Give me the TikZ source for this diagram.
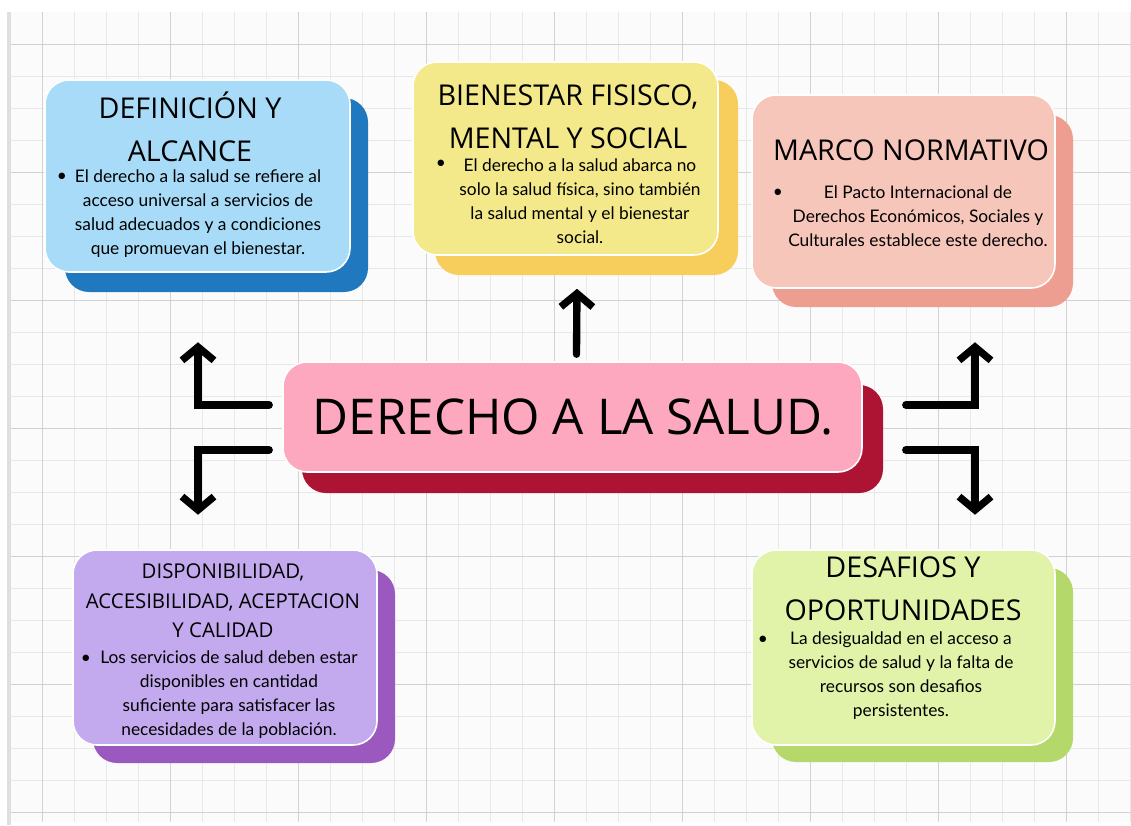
\documentclass[tikz,border=0pt]{standalone}
\usepackage{fontspec}
\setmainfont{Lato}
\newfontfamily\headfont{Open Sans}
\usetikzlibrary{arrows.meta,fit,positioning}

\begin{document}
\begin{tikzpicture}[x=0.75pt,y=-0.75pt,
  card/.style={rounded corners=18pt, inner sep=0pt, draw=white, line width=1.2pt},
  back/.style={rounded corners=18pt, inner sep=0pt},
  head/.style={font=\headfont\fontsize{21.5}{32}\selectfont, align=center, inner sep=0pt},
  body/.style={font=\fontsize{13}{18}\selectfont, align=center, inner sep=0pt},
  bul/.style={font=\fontsize{13}{18}\selectfont, inner sep=0pt},
  link/.style={line width=5.5pt, line cap=round, -{Straight Barb[length=10pt,width=24pt]}},
  gridline/.style={gray!18, line width=0.4pt},
  gridmajor/.style={gray!35, line width=0.5pt}
]
% paper with a grid
\useasboundingbox (0,0) rectangle (1131,825);
\fill[white] (0,0) rectangle (1131,825);
\fill[gray!3] (10,12) rectangle (1131,822);
\foreach \gx in {42,74,...,1131} \draw[gridline] (\gx,12) -- (\gx,822);
\foreach \gy in {44,76,...,822} \draw[gridline] (10,\gy) -- (1131,\gy);
\foreach \gx in {42,170,...,1131} \draw[gridmajor] (\gx,12) -- (\gx,822);
\foreach \gy in {44,172,...,822} \draw[gridmajor] (10,\gy) -- (1131,\gy);
\fill[gray!25] (7,12) rectangle (11,825);

% central topic
\node[back, fill={rgb,255:red,173;green,20;blue,51}, fit={(302,385) (883,493)}] (saludsh) {};
\node[card, fill={rgb,255:red,253;green,168;blue,190}, fit={(283,362) (862,472)}] (salud) {};
\node[font=\headfont\fontsize{37}{37}\selectfont] (saludtxt) at (573,417) {DERECHO A LA SALUD.};

% definicion y alcance
\node[back, fill={rgb,255:red,32;green,121;blue,190}, fit={(65,98) (368,292)}] (defsh) {};
\node[card, fill={rgb,255:red,167;green,219;blue,247}, fit={(45,80) (350,272)}] (def) {};
\node[head] (deftit) at (190,127) {DEFINICIÓN Y\\ALCANCE};
\node[bul] (defbul) at (62,177) {•};
\node[body] (deftxt) at (198,214) {El derecho a la salud se refiere al\\acceso universal a servicios de\\salud adecuados y a condiciones\\que promuevan el bienestar.};

% bienestar
\node[back, fill={rgb,255:red,247;green,206;blue,91}, fit={(435,80) (738,275)}] (biensh) {};
\node[card, fill={rgb,255:red,243;green,232;blue,138}, fit={(413,62) (718,255)}] (bien) {};
\node[head] (bientit) at (568,117) {BIENESTAR FISISCO,\\MENTAL Y SOCIAL};
\node[bul] (bienbul) at (441,164) {•};
\node[body] (bientxt) at (580,201) {El derecho a la salud abarca no\\solo la salud física, sino también\\la salud mental y el bienestar\\social.};

% marco normativo
\node[back, fill={rgb,255:red,238;green,158;blue,144}, fit={(772,115) (1073,307)}] (marcosh) {};
\node[card, fill={rgb,255:red,246;green,198;blue,187}, fit={(752,95) (1055,288)}] (marco) {};
\node[head] (marcotit) at (911,150) {MARCO NORMATIVO};
\node[bul] (marcobul) at (778,193) {•};
\node[body] (marcotxt) at (918,216) {El Pacto Internacional de\\Derechos Económicos, Sociales y\\Culturales establece este derecho.};

% disponibilidad
\node[back, fill={rgb,255:red,155;green,89;blue,191}, fit={(93,570) (395,763)}] (dispsh) {};
\node[card, fill={rgb,255:red,195;green,169;blue,238}, fit={(73,550) (377,745)}] (disp) {};
\node[head, font=\headfont\fontsize{15.3}{22}\selectfont] (disptit) at (223,601) {DISPONIBILIDAD,\\ACCESIBILIDAD, ACEPTACION\\Y CALIDAD};
\node[bul] (dispbul) at (86,659) {•};
\node[body] (disptxt) at (229,695) {Los servicios de salud deben estar\\disponibles en cantidad\\suficiente para satisfacer las\\necesidades de la población.};

% desafios
\node[back, fill={rgb,255:red,180;green,216;blue,106}, fit={(772,568) (1073,762)}] (desafsh) {};
\node[card, fill={rgb,255:red,225;green,243;blue,169}, fit={(752,550) (1055,745)}] (desaf) {};
\node[head] (desaftit) at (903,589) {DESAFIOS Y\\OPORTUNIDADES};
\node[bul] (desafbul) at (763,640) {•};
\node[body] (desaftxt) at (901,676) {La desigualdad en el acceso a\\servicios de salud y la falta de\\recursos son desafios\\persistentes.};

% arrows
\draw[link] ([shift={(4,-7)}]salud.north) -- ([shift={(11.5,33)}]bien.south);
\draw[link] ([shift={(-13,-12)}]salud.west) -| ([shift={(-18.5,50)}]defsh.south);
\draw[link] ([shift={(-13,33)}]salud.west) -| ([shift={(-46,-55)}]dispsh.north);
\draw[link] ([shift={(43,-12)}]salud.east) -| ([shift={(52.5,35)}]marcosh.south);
\draw[link] ([shift={(43,33)}]salud.east) -| ([shift={(52.5,-53)}]desafsh.north);
\end{tikzpicture}
\end{document}
